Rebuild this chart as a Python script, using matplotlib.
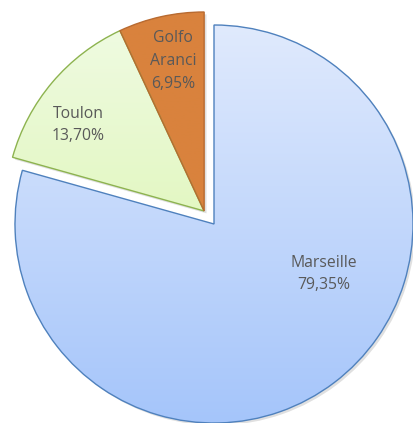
import numpy as np
import matplotlib.pyplot as plt
from matplotlib.patches import Wedge
from matplotlib.colors import LinearSegmentedColormap

ports = ['Marseille', 'Toulon', 'Golfo\nAranci']
shares = [79.35, 13.70, 6.95]

top_colors = ['#e0eafd', '#f0fbe4', '#d9823d']
bottom_colors = ['#a5c5fa', '#d6f4a2', '#d9823d']
edge_colors = ['#4f81bd', '#8db34f', '#b86a30']

W, H = 414, 423
R = 199.0  # pie radius in pixels
fig = plt.figure(figsize=(W / 100, H / 100), dpi=100)
ax = fig.add_axes([0, 0, 1, 1])

labels = [f"{p}\n{s:.2f}%".replace('.', ',') for p, s in zip(ports, shares)]
wedges, texts = ax.pie(shares, labels=labels, startangle=90, counterclock=False,
                       labeldistance=0.77, radius=1,
                       textprops=dict(fontsize=11.3, color='#595959',
                                      family='Open Sans', ha='center', va='center',
                                      linespacing=1.55))

# pie() resets the limits, so set them afterwards
cx, cy = 214 / R, (H - 224) / R
ax.set_aspect('equal')
ax.axis('off')

# Toulon and Golfo Aranci are pulled out together
a0 = np.deg2rad(90 - 360 * shares[0] / 100 + 360)
a1 = np.deg2rad(90)
mid = (a0 + a1) / 2
off = np.array([np.cos(mid), np.sin(mid)]) * 0.082

# label offsets from each wedge's apex, in pixels
label_px = [(110, -50), (-126, 86), (-31, 150)]

for i, (w, t) in enumerate(zip(wedges, texts)):
    w.set_facecolor('none')
    w.set_edgecolor(edge_colors[i])
    w.set_linewidth(1.0)
    w.set_zorder(3)
    if i > 0:
        w.set_center(tuple(off))
    c = w.center
    t.set_position((c[0] + label_px[i][0] / R, c[1] + label_px[i][1] / R))
    t.set_zorder(5)
    # vertical gradient fill clipped to the wedge
    cmap = LinearSegmentedColormap.from_list('g%d' % i, [bottom_colors[i], top_colors[i]])
    grad = np.linspace(0, 1, 256).reshape(-1, 1)
    im = ax.imshow(grad, cmap=cmap, origin='lower', aspect='auto',
                   extent=[-1.2, 1.2, -1.0 + c[1], 1.0 + c[1]], zorder=2)
    im.set_clip_path(w)
    # soft shadow
    ax.add_patch(Wedge((c[0] + 0.012, c[1] - 0.012), 1, w.theta1, w.theta2,
                       facecolor='#000000', alpha=0.12, edgecolor='none', zorder=1))

ax.set_xlim(-cx, W / R - cx)
ax.set_ylim(-cy, H / R - cy)

fig.savefig('out.png', dpi=100)
